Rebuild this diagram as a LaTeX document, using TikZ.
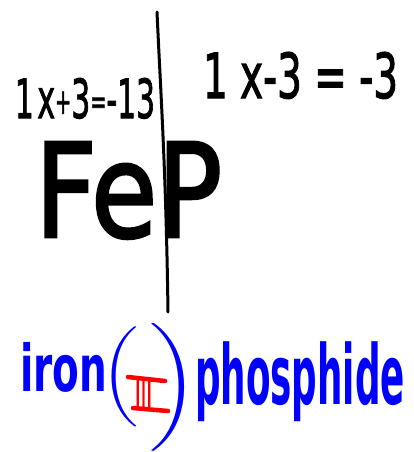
\documentclass[tikz,border=0pt]{standalone}
\usepackage{fontspec}
\setmainfont{DejaVu Sans}
\newfontfamily\pen[FakeBold=2]{DejaVu Sans}
\newfontfamily\thickpen[FakeBold=2.2]{DejaVu Sans}
\usepackage{graphicx}
\usetikzlibrary{calc}
\definecolor{inkblue}{RGB}{0,0,255}
\definecolor{inkred}{RGB}{255,0,0}
\newcommand{\smallsym}[1]{\raisebox{0.08em}{\scalebox{0.65}{#1}}}
\begin{document}
\begin{tikzpicture}[x=1pt,y=-1pt,
  txt/.style={inner sep=0pt, outer sep=0pt, anchor=north west},
  blueink/.style={txt, text=inkblue},
  redink/.style={txt, text=inkred},
  bar/.style={line width=4.5pt, line cap=round, inkred},
  divider/.style={line width=3pt, line cap=round, black}]
\useasboundingbox[fill=white] (0,0) rectangle (414,452);
% equations
\node[txt] (lefteq) at (15,78) {\resizebox{140pt}{40pt}{\pen 1\kern0.12em x\smallsym{+}3\smallsym{=}-13}};
\node[txt] (righteq) at (203,52) {\resizebox{195pt}{46pt}{\pen 1 x-3 = -3}};
% formula
\node[txt] (fep) at (35,142) {\resizebox{187pt}{95pt}{\thickpen FeP}};
% divider
\coordinate (vtop) at (157,12);
\coordinate (vbot) at (168,312);
\draw[divider] (vtop) .. controls (161,100) and (166,170) .. (vbot);
% name
\node[blueink] (iron) at (20,342) {\resizebox*{87pt}{50pt}{\bfseries iron}};
\node[blueink] (lparen) at (101,327) {\resizebox*{37pt}{100pt}{$\bigg($}};
\node[redink] (roman) at (135,380) {\resizebox{17pt}{27pt}{\pen III}};
\draw[bar] ($(roman.north west)+(-7,-3)$) -- ($(roman.north east)+(13,1)$);
\draw[bar] ($(roman.south west)+(-2,1)$) -- ($(roman.south east)+(16,4)$);
\node[blueink] (rparen) at (149,323) {\resizebox*{49pt}{128pt}{$\bigg)$}};
\node[blueink] (phos) at (195,342) {\resizebox*{210pt}{80pt}{\bfseries phosphide}};
\end{tikzpicture}
\end{document}
